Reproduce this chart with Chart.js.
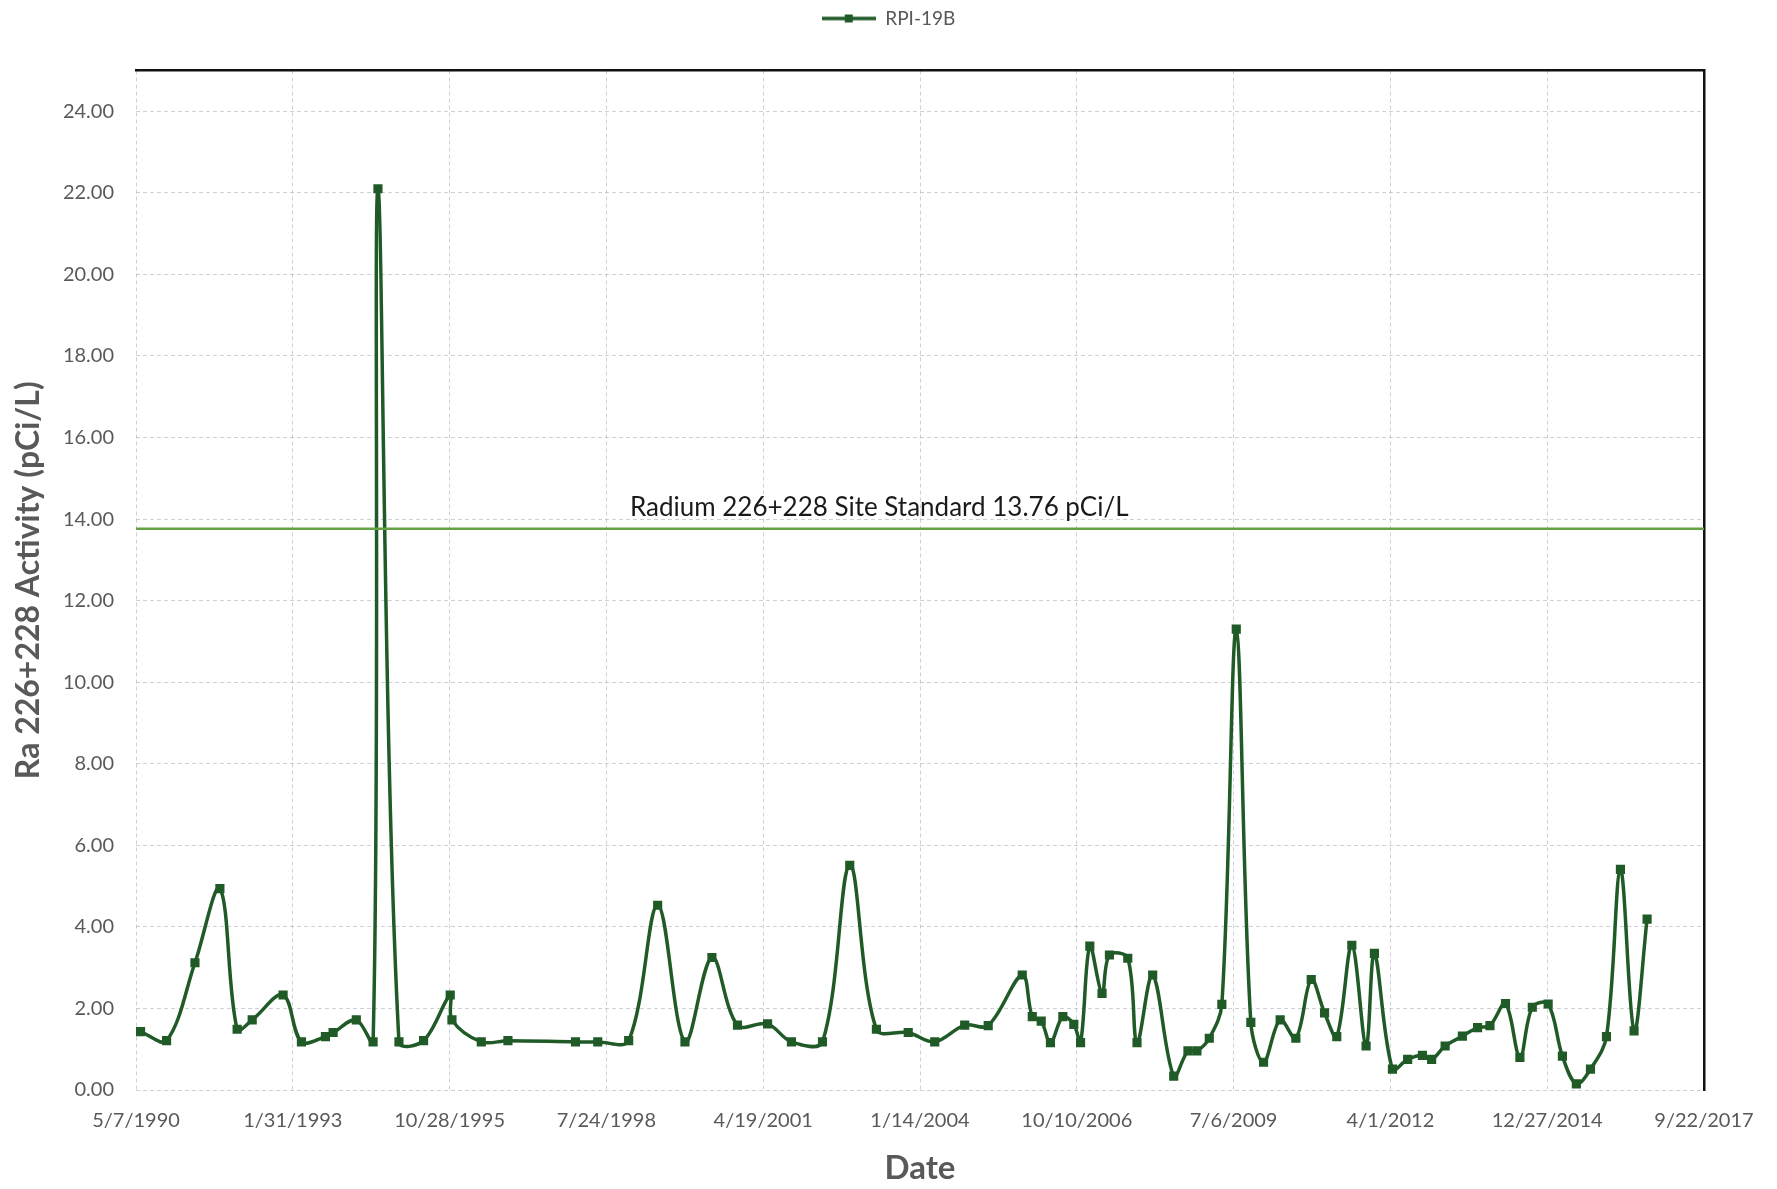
<!DOCTYPE html>
<html>
<head>
<meta charset="utf-8">
<title>RPI-19B Ra 226+228 Activity</title>
<script src="https://cdn.jsdelivr.net/npm/chart.js@4/dist/chart.umd.min.js"></script>
<style>
  html, body { margin: 0; padding: 0; background: #ffffff; }
  canvas { display: block; }
</style>
</head>
<body>
<canvas id="chart" width="1777" height="1189"></canvas>
<script>
// Sampling dates for well RPI-19B
const sampleDates = [
  '1990-06-05','1990-11-18','1991-05-18','1991-10-24','1992-02-11','1992-05-17','1992-11-30',
  '1993-03-27','1993-08-27','1993-10-15','1994-03-12','1994-06-27','1994-07-28','1994-12-09',
  '1995-05-15','1995-11-01','1995-11-12','1996-05-17','1996-11-03','1998-01-08','1998-05-30',
  '1998-12-13','1999-06-16','1999-12-07','2000-05-27','2000-11-06','2001-05-17','2001-10-16',
  '2002-05-02','2002-10-23','2003-04-11','2003-10-31','2004-04-17','2004-10-25','2005-03-24',
  '2005-10-27','2005-12-30','2006-02-25','2006-04-25','2006-07-13','2006-09-21','2006-11-03',
  '2007-01-01','2007-03-20','2007-05-06','2007-08-31','2007-10-29','2008-02-06','2008-06-19',
  '2008-09-18','2008-11-14','2009-02-01','2009-04-22','2009-07-23','2009-10-24','2010-01-13',
  '2010-04-29','2010-08-07','2010-11-13','2011-02-06','2011-04-25','2011-07-30','2011-10-29',
  '2011-12-21','2012-04-14','2012-07-20','2012-10-22','2012-12-20','2013-03-16','2013-07-04',
  '2013-10-09','2013-12-27','2014-04-05','2014-07-06','2014-09-23','2015-01-02','2015-04-03',
  '2015-07-01','2015-09-29','2016-01-09','2016-04-07','2016-07-03','2016-09-24'
];

// Ra 226+228 activity, pCi/L
const ra226228 = [
  1.43, 1.21, 3.12, 4.94, 1.49, 1.72, 2.33,
  1.18, 1.31, 1.41, 1.72, 1.18, 22.10, 1.18,
  1.21, 2.33, 1.72, 1.18, 1.21, 1.18, 1.18,
  1.21, 4.53, 1.18, 3.25, 1.59, 1.62, 1.18,
  1.18, 5.51, 1.49, 1.41, 1.18, 1.59, 1.58,
  2.82, 1.80, 1.69, 1.16, 1.80, 1.61, 1.16,
  3.53, 2.37, 3.31, 3.23, 1.16, 2.82, 0.34,
  0.96, 0.96, 1.27, 2.10, 11.30, 1.66, 0.68,
  1.72, 1.27, 2.71, 1.89, 1.31, 3.55, 1.08,
  3.35, 0.51, 0.75, 0.85, 0.75, 1.08, 1.32,
  1.53, 1.58, 2.12, 0.80, 2.03, 2.11, 0.83,
  0.15, 0.51, 1.31, 5.41, 1.45, 4.19
];

const seriesName = 'RPI-19B';
const siteStandard = 13.76;
const siteStandardLabel = 'Radium 226+228 Site Standard 13.76 pCi/L';

// Date axis: ticks every 1000 days starting 5/7/1990
const xAxisStart = '1990-05-07';
const xTickStepDays = 1000;
const xTickCount = 10;

// Activity axis ticks
const yTickValues = [0, 2, 4, 6, 8, 10, 12, 14, 16, 18, 20, 22, 24];
const yAxisMax = 25;

const xAxisTitle = 'Date';
const yAxisTitle = 'Ra 226+228 Activity (pCi/L)';

// ---- helpers ----
const MS_PER_DAY = 86400000;
function dayNumber(iso) {
  const [y, m, d] = iso.split('-').map(Number);
  return Date.UTC(y, m - 1, d) / MS_PER_DAY;
}
function formatDay(day) {
  const dt = new Date(Math.round(day) * MS_PER_DAY);
  return (dt.getUTCMonth() + 1) + '/' + dt.getUTCDate() + '/' + dt.getUTCFullYear();
}

const xMin = dayNumber(xAxisStart);
const xMax = xMin + xTickStepDays * xTickCount;
const xTickValues = Array.from({ length: xTickCount + 1 }, (_, i) => xMin + i * xTickStepDays);

const SERIES_COLOR = '#1f5a27';
const STANDARD_COLOR = '#64a244';
const GRID_COLOR = 'rgba(175,175,190,0.6)';
const TEXT_GRAY = '#595959';
const FONT = 'Lato, "Open Sans", sans-serif';

// Legend swatch: line with a square marker
function legendSwatch() {
  const c = document.createElement('canvas');
  c.width = 54; c.height = 12;
  const g = c.getContext('2d');
  g.strokeStyle = SERIES_COLOR;
  g.lineWidth = 3.5;
  g.beginPath(); g.moveTo(0, 6); g.lineTo(54, 6); g.stroke();
  g.fillStyle = SERIES_COLOR;
  g.fillRect(23, 2, 8, 8);
  return c;
}

// Text label sitting on the site-standard line
const standardLabelPlugin = {
  id: 'standardLabel',
  afterDatasetsDraw(chart, args, opts) {
    const { ctx, chartArea, scales } = chart;
    const y = scales.y.getPixelForValue(siteStandard);
    const x = chartArea.left + (chartArea.right - chartArea.left) * opts.centerFraction;
    ctx.save();
    ctx.font = '26px ' + FONT;
    ctx.fillStyle = '#1a1a1a';
    ctx.textAlign = 'center';
    ctx.textBaseline = 'bottom';
    ctx.fillText(siteStandardLabel, x, y - 8);
    ctx.restore();
  }
};

const seriesPoints = sampleDates.map((d, i) => ({ x: dayNumber(d), y: ra226228[i] }));

new Chart(document.getElementById('chart'), {
  type: 'line',
  data: {
    datasets: [
      {
        label: seriesName,
        data: seriesPoints,
        borderColor: SERIES_COLOR,
        backgroundColor: SERIES_COLOR,
        borderWidth: 3.5,
        pointStyle: 'rect',
        pointRadius: 4,
        pointBackgroundColor: SERIES_COLOR,
        pointBorderColor: SERIES_COLOR,
        tension: 0.35,
        fill: false,
        order: 1
      },
      {
        label: 'Site Standard',
        data: [{ x: xMin, y: siteStandard }, { x: xMax, y: siteStandard }],
        borderColor: STANDARD_COLOR,
        borderWidth: 2.5,
        pointRadius: 0,
        tension: 0,
        fill: false,
        order: 0
      }
    ]
  },
  options: {
    responsive: false,
    animation: false,
    devicePixelRatio: 1,
    layout: { padding: { top: 0, right: 0, bottom: 0, left: 0 } },
    plugins: {
      legend: {
        position: 'top',
        labels: {
          usePointStyle: true,
          pointStyle: legendSwatch(),
          pointStyleWidth: 54,
          padding: 9,
          color: TEXT_GRAY,
          font: { family: FONT, size: 19 },
          filter: item => item.datasetIndex === 0
        }
      },
      tooltip: { enabled: false },
      standardLabel: { centerFraction: 0.474 }
    },
    scales: {
      x: {
        type: 'linear',
        position: 'bottom',
        min: xMin,
        max: xMax,
        afterBuildTicks: s => { s.ticks = xTickValues.map(v => ({ value: v })); },
        afterFit: s => { s.height = 99; },
        ticks: {
          callback: v => formatDay(v),
          color: TEXT_GRAY,
          font: { family: FONT, size: 20 },
          padding: 19,
          maxRotation: 0,
          autoSkip: false
        },
        grid: { color: GRID_COLOR, lineWidth: 1, drawTicks: false },
        border: { display: false, dash: [4, 3] },
        title: {
          display: true,
          text: xAxisTitle,
          color: TEXT_GRAY,
          font: { family: FONT, size: 33, weight: 'bold' },
          padding: { top: 0, bottom: 1 }
        }
      },
      xTop: {
        type: 'linear',
        position: 'top',
        min: xMin,
        max: xMax,
        afterFit: s => { s.height = 32.5; },
        ticks: { display: false },
        grid: { display: false, drawTicks: false },
        border: { display: true, color: '#111111', width: 2.5 }
      },
      y: {
        type: 'linear',
        position: 'left',
        min: 0,
        max: yAxisMax,
        afterBuildTicks: s => { s.ticks = yTickValues.map(v => ({ value: v })); },
        afterFit: s => { s.width = 136; },
        ticks: {
          callback: v => Number(v).toFixed(2),
          color: TEXT_GRAY,
          font: { family: FONT, size: 20 },
          padding: 22
        },
        grid: { color: GRID_COLOR, lineWidth: 1, drawTicks: false },
        border: { display: false, dash: [4, 3] },
        title: {
          display: true,
          text: yAxisTitle,
          color: TEXT_GRAY,
          font: { family: FONT, size: 32, weight: 'bold' },
          padding: { top: 9, bottom: 0 }
        }
      },
      yRight: {
        type: 'linear',
        position: 'right',
        min: 0,
        max: yAxisMax,
        afterFit: s => { s.width = 73; },
        ticks: { display: false },
        grid: { display: false, drawTicks: false },
        border: { display: true, color: '#111111', width: 2.5 }
      }
    }
  },
  plugins: [standardLabelPlugin]
});
</script>
</body>
</html>
